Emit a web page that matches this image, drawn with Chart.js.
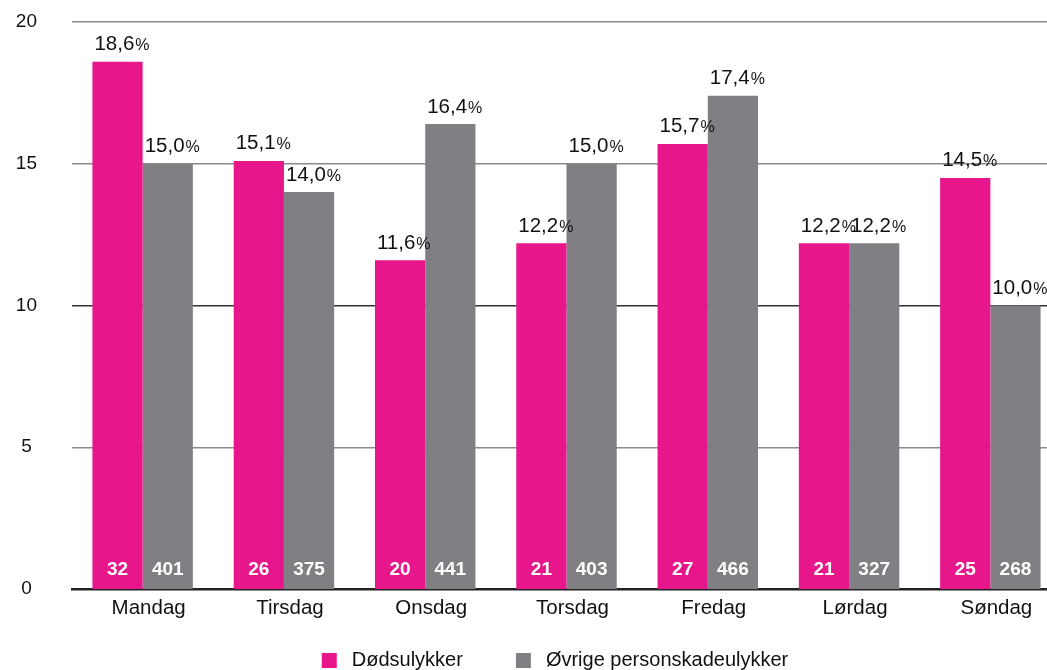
<!DOCTYPE html>
<html>
<head>
<meta charset="utf-8">
<script src="https://cdn.jsdelivr.net/npm/chart.js@4/dist/chart.umd.min.js"></script>
<style>
html,body{margin:0;padding:0;background:#fff;overflow:hidden;}
#wrap{position:relative;width:1061px;height:670px;}
</style>
</head>
<body>
<div id="wrap"><canvas id="c"></canvas></div>
<script>
const days = ["Mandag","Tirsdag","Onsdag","Torsdag","Fredag","Lørdag","Søndag"];
const fatalPct = [18.6, 15.1, 11.6, 12.2, 15.7, 12.2, 14.5];
const injuryPct = [15.0, 14.0, 16.4, 15.0, 17.4, 12.2, 10.0];
const fatalCount = [32, 26, 20, 21, 27, 21, 25];
const injuryCount = [401, 375, 441, 403, 466, 327, 268];
const seriesNames = ["Dødsulykker", "Øvrige personskadeulykker"];
const yTicks = [0, 5, 10, 15, 20];

const PINK = "#E8168B";
const GRAY = "#808084";
const FONT = "'Liberation Sans', Arial, Helvetica, sans-serif";

const labelPlugin = {
  id: "labels",
  afterDatasetsDraw(chart) {
    const ctx = chart.ctx;
    const counts = [fatalCount, injuryCount];
    chart.data.datasets.forEach((ds, di) => {
      const meta = chart.getDatasetMeta(di);
      meta.data.forEach((bar, i) => {
        const left = bar.x - bar.width / 2 + 2;
        const base = bar.y - 11.5;
        const num = ds.data[i].toFixed(1).replace(".", ",");
        ctx.save();
        ctx.fillStyle = "#111";
        ctx.textAlign = "left";
        ctx.textBaseline = "alphabetic";
        ctx.font = "20.5px " + FONT;
        ctx.fillText(num, left, base);
        const w = ctx.measureText(num).width;
        ctx.font = "16px " + FONT;
        ctx.fillText("%", left + w + 1, base);
        ctx.fillStyle = "#fff";
        ctx.font = "bold 19px " + FONT;
        ctx.textAlign = "center";
        ctx.textBaseline = "middle";
        ctx.fillText(String(counts[di][i]), bar.x, bar.base - 19);
        ctx.restore();
      });
    });
  },
  afterDraw(chart) {
    const ctx = chart.ctx;
    ctx.save();
    ctx.font = "20px " + FONT;
    const colors = [PINK, GRAY];
    const box = 15, textGap = 15, itemGap = 53;
    const widths = seriesNames.map(n => box + textGap + ctx.measureText(n).width);
    const total = widths[0] + itemGap + widths[1];
    let x = 555 - total / 2;
    const cy = 660;
    seriesNames.forEach((n, i) => {
      ctx.fillStyle = colors[i];
      ctx.fillRect(x, cy - 7, box, box);
      ctx.fillStyle = "#111";
      ctx.textAlign = "left";
      ctx.textBaseline = "middle";
      ctx.fillText(n, x + box + textGap, cy);
      x += widths[i] + itemGap;
    });
    ctx.restore();
  }
};

new Chart(document.getElementById("c"), {
  type: "bar",
  data: {
    labels: days,
    datasets: [
      { label: seriesNames[0], data: fatalPct, backgroundColor: PINK },
      { label: seriesNames[1], data: injuryPct, backgroundColor: GRAY }
    ]
  },
  options: {
    responsive: true,
    maintainAspectRatio: false,
    animation: false,
    devicePixelRatio: 1,
    layout: { padding: { top: 22, left: 0, right: 0, bottom: 0 } },
    datasets: { bar: { categoryPercentage: 0.711, barPercentage: 1.0 } },
    plugins: { legend: { display: false }, tooltip: { enabled: false } },
    scales: {
      x: {
        z: 1,
        grid: { display: false, drawTicks: false },
        border: { display: true, color: "#222", width: 2.5 },
        ticks: { color: "#111", font: { family: FONT, size: 20.5 }, padding: 7, labelOffset: 6 },
        afterFit(s) { s.height = 81; }
      },
      y: {
        min: 0, max: 20,
        afterBuildTicks(s) { s.ticks = yTicks.map(v => ({ value: v })); },
        grid: {
          drawTicks: false,
          color: c => c.tick && c.tick.value === 10 ? "#333" : (c.tick && c.tick.value === 0 ? "#222" : "#8a8a8a"),
          lineWidth: c => c.tick && c.tick.value === 0 ? 0 : 1.5
        },
        border: { display: false },
        ticks: { color: "#111", font: { family: FONT, size: 19 }, padding: 35, crossAlign: "center" },
        afterFit(s) { s.width = 72; s.paddingTop = 0; s.paddingBottom = 0; }
      }
    }
  },
  plugins: [labelPlugin]
});
</script>
</body>
</html>
